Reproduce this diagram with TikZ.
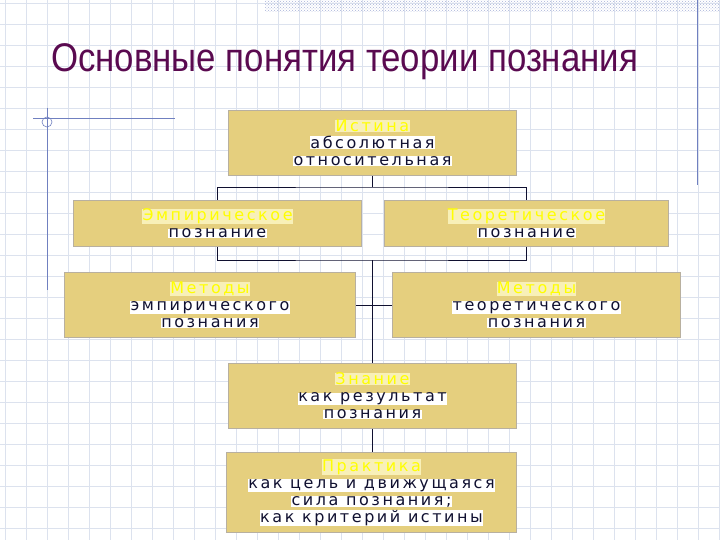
\documentclass[tikz,border=0pt]{standalone}
\usepackage{fontspec}
\setmainfont{Liberation Sans}
\newfontfamily\boxfont[LetterSpace=16]{DejaVu Sans}
\usetikzlibrary{patterns}
\definecolor{tan}{HTML}{E5CF7E}
\definecolor{bordr}{HTML}{B8B0A0}
\definecolor{gridc}{HTML}{DCE2EE}
\definecolor{navy}{HTML}{101030}
\definecolor{ttl}{HTML}{5A0A50}
\definecolor{hl}{HTML}{FFFF00}
\definecolor{hlbg}{HTML}{F8F0B8}
\definecolor{deco}{HTML}{7080C0}
\newcommand{\hdtxt}[1]{\colorbox{hlbg}{\color{hl}#1}}
\newcommand{\lntxt}[1]{\colorbox{white}{\color{navy}#1}}
\begin{document}
\begin{tikzpicture}[x=1pt,y=-1pt,
  box/.style={draw=bordr,fill=tan,line width=1pt,align=center,inner sep=0pt,
    font=\boxfont\fontsize{16}{18}\selectfont,anchor=north west},
  conn/.style={draw=navy,line width=0.9pt}]
\useasboundingbox (0,0) rectangle (720,540);
\fill[white] (0,0) rectangle (720,540);
\foreach \x in {5,26,...,720} \draw[gridc,line width=0.5pt] (\x,0) -- (\x,540);
\foreach \y in {3,24,...,540} \draw[gridc,line width=0.5pt] (0,\y) -- (720,\y);
\fill[pattern=crosshatch dots,pattern color=deco!60] (265,0) rectangle (720,12);
\draw[deco,line width=0.8pt] (697,0) -- (697,185);
\draw[deco,line width=0.8pt] (33,118) -- (175,118);
\draw[deco,line width=0.8pt] (47,108) -- (47,290);
\draw[deco,line width=0.6pt] (47,122) circle (5);
\node[anchor=west,text=ttl,font=\fontsize{40}{46}\selectfont,xscale=0.87] (title) at (48,62) {Основные понятия теории познания};
\setlength{\fboxsep}{0.3pt}
\node[box,minimum width=288,minimum height=65] (ist) at (228,110) {\hdtxt{Истина}\\[-1pt]\lntxt{абсолютная}\\[-1pt]\lntxt{относительная}};
\node[box,minimum width=288,minimum height=46] (emp) at (73,200) {\hdtxt{Эмпирическое}\\[-1pt]\lntxt{познание}};
\node[box,minimum width=284,minimum height=46] (teo) at (384,200) {\hdtxt{Теоретическое}\\[-1pt]\lntxt{познание}};
\node[box,minimum width=291,minimum height=65] (mem) at (64,272) {\hdtxt{Методы}\\[-1pt]\lntxt{эмпирического}\\[-1pt]\lntxt{познания}};
\node[box,minimum width=288,minimum height=65] (mte) at (392,272) {\hdtxt{Методы}\\[-1pt]\lntxt{теоретического}\\[-1pt]\lntxt{познания}};
\node[box,minimum width=288,minimum height=65] (zn) at (228,363) {\hdtxt{Знание}\\[-1pt]\lntxt{как результат}\\[-1pt]\lntxt{познания}};
\node[box,minimum width=290,minimum height=80] (pr) at (226,452) {\hdtxt{Практика}\\[-1pt]\lntxt{как цель и движущаяся}\\[-1pt]\lntxt{сила познания;}\\[-1pt]\lntxt{как критерий истины}};
\coordinate (j1) at (372,187);
\coordinate (j2) at (372,260);
\draw[conn] (ist.south -| j1) -- (j1);
\draw[conn] (emp.north) |- (j1) -| (teo.north);
\draw[conn] (emp.south) |- (j2) -| (teo.south);
\draw[conn] (j2) -- (zn.north -| j2);
\draw[conn] (mem.east |- 0,305) -- (mte.west |- 0,305);
\draw[conn] (zn.south -| j2) -- (pr.north -| j2);
\end{tikzpicture}
\end{document}
